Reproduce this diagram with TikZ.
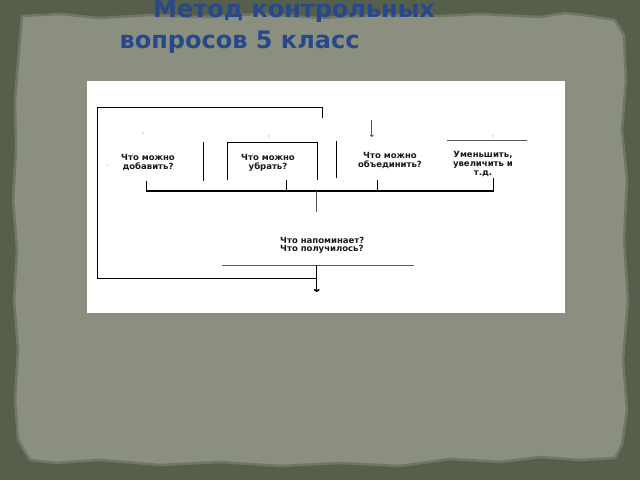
\documentclass[tikz,border=0pt]{standalone}
\usepackage{fontspec}
\setmainfont{DejaVu Sans}
\usetikzlibrary{arrows.meta}
\definecolor{outerbg}{RGB}{86,94,76}
\definecolor{paper}{RGB}{138,143,128}
\definecolor{paperedge}{RGB}{112,118,100}
\definecolor{titleblue}{RGB}{40,72,140}
\begin{document}
\begin{tikzpicture}[x=1pt,y=-1pt,line join=miter,
  heavy/.style={line width=1.5pt, black},
  light/.style={line width=1pt, black},
  faint/.style={line width=0.8pt, black!65},
  lbl/.style={font=\bfseries\fontsize{8.5}{9}\selectfont, inner sep=0pt, align=center, text=black!90},
  ttl/.style={font=\bfseries\fontsize{24}{28}\selectfont, text=titleblue, inner sep=0pt, anchor=base west},
  speck/.style={fill=black!55, draw=none}]
\useasboundingbox (0,0) rectangle (640,480);
% background
\fill[outerbg] (0,0) rectangle (640,480);
\path[fill=paper, draw=paperedge, line width=2.5pt]
  (22,16) -- (60,14) -- (100,18) -- (150,15) -- (200,17) -- (260,14) -- (320,18) -- (380,15)
  -- (440,16) -- (480,14) -- (540,17) -- (565,13) -- (590,16) -- (615,20) -- (624,35)
  -- (626,80) -- (622,130) -- (627,180) -- (624,240) -- (628,300) -- (623,360) -- (627,410)
  -- (622,445) -- (615,458) -- (580,460) -- (540,457) -- (500,462) -- (450,459) -- (400,466)
  -- (340,463) -- (280,466) -- (220,462) -- (160,465) -- (100,460) -- (55,463) -- (30,460)
  -- (18,440) -- (15,400) -- (18,350) -- (14,300) -- (17,250) -- (13,200) -- (16,150)
  -- (15,100) -- (19,50) -- cycle;
% title
\node[ttl] (title1) at (153,17.5) {Метод контрольных};
\node[ttl] (title2) at (119.5,48.3) {вопросов 5 класс};
% white panel
\fill[white] (86.5,81) rectangle (565,313);
% feedback loop
\coordinate (lpA) at (322.3,118);
\coordinate (lpB) at (322.3,107.3);
\coordinate (lpC) at (97.5,107.3);
\coordinate (lpD) at (97.5,278.3);
\coordinate (lpE) at (316.7,278.3);
\draw[heavy] (lpA) -- (lpB) -- (lpC) -- (lpD) -- (lpE);
% separators and box
\coordinate (s1t) at (203.3,142); \coordinate (s1b) at (203.3,180.5);
\draw[light] (s1t) -- (s1b);
\coordinate (bxA) at (227.7,180); \coordinate (bxB) at (227.7,142);
\coordinate (bxC) at (317.3,142); \coordinate (bxD) at (317.3,180);
\draw[light] (bxA) -- (bxB) -- (bxC) -- (bxD);
\coordinate (s2t) at (336.7,141); \coordinate (s2b) at (336.7,178);
\draw[light] (s2t) -- (s2b);
\coordinate (arT) at (371.7,120); \coordinate (arB) at (371.7,137);
\draw[faint, -{To[length=2.5pt,width=4pt]}] (arT) -- (arB);
\coordinate (trL) at (446.7,140.3); \coordinate (trR) at (526.7,140.3);
\draw[faint] (trL) -- (trR);
% labels
\node[lbl] (t1) at (148,162.5) {Что можно\\добавить?};
\node[lbl] (t2) at (268,163) {Что можно\\убрать?};
\node[lbl] (t3) at (390,160) {Что можно\\объединить?};
\node[lbl] (t4) at (483,164.2) {Уменьшить,\\увеличить и\\т.д.};
% bus
\coordinate (k1) at (146.7,181.3); \coordinate (b1) at (146.7,191);
\coordinate (k2) at (286.7,179.7); \coordinate (b2) at (286.7,191);
\coordinate (k3) at (377.7,179.7); \coordinate (b3) at (377.7,191);
\coordinate (k4) at (493.3,178);   \coordinate (b4) at (493.3,191);
\draw[heavy] (k1) -- (b1) -- (b4) -- (k4);
\draw[heavy] (k2) -- (b2);
\draw[heavy] (k3) -- (b3);
\coordinate (c1) at (316.7,191); \coordinate (c2) at (316.7,212.3);
\draw[faint] (c1) -- (c2);
% result
\node[lbl, align=left, anchor=west, font=\bfseries\fontsize{8.5}{8}\selectfont] (t5) at (280,245.5) {Что напоминает?\\Что получилось?};
\coordinate (hlL) at (222.3,265); \coordinate (hlR) at (414,265);
\draw[faint] (hlL) -- (hlR);
\coordinate (ar1) at (316.7,265); \coordinate (ar2) at (316.7,292);
\draw[heavy, -{To[length=3pt,width=6pt]}] (ar1) -- (ar2);
% specks
\fill[speck] (143,133) circle (0.6);
\fill[speck] (269,136) circle (0.6);
\fill[speck] (107,165) circle (0.5);
\fill[speck] (493,136) circle (0.6);
\end{tikzpicture}
\end{document}
